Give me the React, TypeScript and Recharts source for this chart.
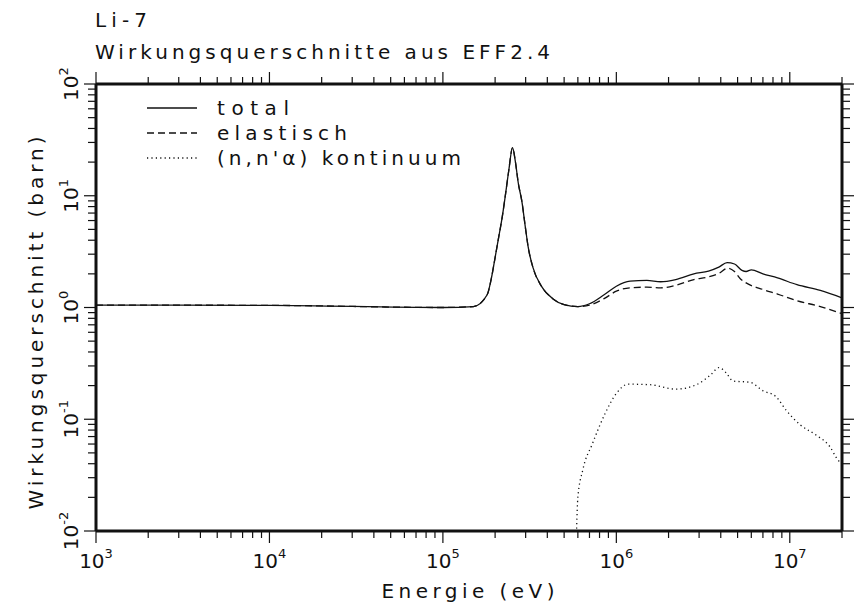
import React from "react";
import { LineChart, Line, XAxis, YAxis } from "recharts";

// Li-7 Wirkungsquerschnitte (barn) über Energie (eV)
const TOTAL_E = [
  1e3, 1e4, 1e5, 1.5e5, 1.8e5, 1.9e5, 2.0e5, 2.1e5, 2.2e5, 2.3e5, 2.4e5, 2.52e5,
  2.62e5, 2.72e5, 2.85e5, 3.0e5, 3.1e5, 3.3e5, 3.7e5, 4.3e5, 5e5, 6e5, 7e5, 8.5e5,
  1e6, 1.2e6, 1.5e6, 1.8e6, 2.2e6, 2.8e6, 3.4e6, 3.9e6, 4.35e6, 4.8e6, 5.3e6, 5.6e6,
  6e6, 7e6, 8.5e6, 1.1e7, 1.5e7, 2e7,
];
const TOTAL_S = [
  1.05, 1.045, 1.0, 1.02, 1.3, 1.8, 2.8, 4.3, 6.5, 10.5, 17, 27,
  20, 13, 9, 5, 3.5, 2.3, 1.55, 1.2, 1.06, 1.02, 1.08, 1.3,
  1.55, 1.72, 1.75, 1.7, 1.78, 2.0, 2.12, 2.3, 2.52, 2.45, 2.15, 2.1,
  2.17, 2.0, 1.84, 1.6, 1.42, 1.22,
];

const ELASTIC_E = [
  1e3, 1e4, 1e5, 1.5e5, 1.8e5, 1.9e5, 2.0e5, 2.1e5, 2.2e5, 2.3e5, 2.4e5, 2.52e5,
  2.62e5, 2.72e5, 2.85e5, 3.0e5, 3.1e5, 3.3e5, 3.7e5, 4.3e5, 5e5, 6e5, 7e5, 8.5e5,
  1e6, 1.2e6, 1.5e6, 1.8e6, 2.2e6, 2.8e6, 3.4e6, 3.9e6, 4.4e6, 4.8e6, 5.2e6, 5.6e6,
  7e6, 8.5e6, 1.1e7, 1.5e7, 2e7,
];
const ELASTIC_S = [
  1.05, 1.045, 1.0, 1.02, 1.3, 1.8, 2.8, 4.3, 6.5, 10.5, 17, 27,
  20, 13, 9, 5, 3.5, 2.3, 1.55, 1.2, 1.06, 1.02, 1.05, 1.2,
  1.4, 1.5, 1.52, 1.5, 1.58, 1.78, 1.88, 2.02, 2.25, 2.1, 1.8, 1.66,
  1.45, 1.32, 1.15, 1.02, 0.88,
];

const NNA_E = [
  5.9e5, 6.0e5, 6.4e5, 7.3e5, 8.6e5, 1e6, 1.17e6, 1.55e6, 2.2e6, 2.9e6, 3.5e6, 3.9e6,
  4.3e6, 4.7e6, 5.9e6, 7e6, 8.3e6, 9.5e6, 1.15e7, 1.42e7, 1.7e7, 1.9e7, 2e7,
];
const NNA_S = [
  0.0105, 0.02, 0.035, 0.061, 0.112, 0.17, 0.206, 0.204, 0.186, 0.204, 0.25, 0.29,
  0.26, 0.22, 0.214, 0.18, 0.16, 0.121, 0.089, 0.072, 0.057, 0.043, 0.04,
];

const X_DECADES = [1e3, 1e4, 1e5, 1e6, 1e7];
const Y_DECADES = [1e-2, 1e-1, 1e0, 1e1, 1e2];
const MINOR_STEPS = [2, 3, 4, 5, 6, 7, 8, 9];

const SERIES = [
  { name: "total", dash: undefined as string | undefined, width: 72 },
  { name: "elastisch", dash: "7 4", width: 130 },
  { name: "(n,n'α) kontinuum", dash: "1.2 3.2", width: 244 },
];

const zip = (e: number[], s: number[]) => e.map((v, i) => ({ e: v, s: s[i] }));
const totalData = zip(TOTAL_E, TOTAL_S);
const elasticData = zip(ELASTIC_E, ELASTIC_S);
const nnaData = zip(NNA_E, NNA_S);

const buildTicks = (decades: number[], last: number) => {
  const out: number[] = [];
  decades.forEach((d) => {
    out.push(d);
    MINOR_STEPS.forEach((m) => {
      if (d * m <= last * 1.0001) out.push(d * m);
    });
  });
  if (!out.includes(last)) out.push(last);
  return out.filter((t) => t <= last * 1.0001);
};
const xTicks = buildTicks(X_DECADES, 2e7);
const yTicks = buildTicks(Y_DECADES, 1e2);

const FONT = "DejaVu Sans, sans-serif";
const INK = "#111";

const isMajor = (v: number) => {
  const l = Math.log10(v);
  return Math.abs(l - Math.round(l)) < 1e-6;
};
const exponent = (v: number) => String(Math.round(Math.log10(v)));

const HTick = (props: any) => {
  const { x, y, payload, side } = props;
  const major = isMajor(payload.value);
  const len = major ? 12 : 7;
  const dir = side === "bottom" ? 1 : -1;
  return (
    <g>
      <line x1={x} y1={y} x2={x} y2={y + dir * len} stroke={INK} strokeWidth={1.2} />
      {side === "bottom" && major && (
        <text x={x} y={y + 37} textAnchor="middle" fontFamily={FONT} fontSize={20} fill={INK}>
          <tspan>10</tspan>
          <tspan dy={-10} fontSize={13}>
            {exponent(payload.value)}
          </tspan>
        </text>
      )}
    </g>
  );
};

const VTick = (props: any) => {
  const { x, y, payload, side } = props;
  const major = isMajor(payload.value);
  const len = major ? 12 : 8;
  const dir = side === "left" ? -1 : 1;
  const bx = x - 18;
  return (
    <g>
      <line x1={x} y1={y} x2={x + dir * len} y2={y} stroke={INK} strokeWidth={1.2} />
      {side === "left" && major && (
        <text
          x={bx}
          y={y}
          transform={`rotate(-90, ${bx}, ${y})`}
          textAnchor="middle"
          fontFamily={FONT}
          fontSize={20}
          fill={INK}
        >
          <tspan>10</tspan>
          <tspan dy={-10} fontSize={13}>
            {exponent(payload.value)}
          </tspan>
        </text>
      )}
    </g>
  );
};

const axisLine = { stroke: INK, strokeWidth: 3 };

export default function App() {
  return (
    <div style={{ position: "absolute", left: 0, top: 0, width: 857, height: 615, background: "#fff" }}>
      <LineChart width={857} height={615} margin={{ top: 74, right: 5, bottom: 24, left: 36 }}>
        <XAxis
          xAxisId="bottom"
          dataKey="e"
          type="number"
          scale="log"
          domain={[1e3, 2e7]}
          allowDataOverflow
          ticks={xTicks}
          interval={0}
          height={60}
          tickSize={0}
          tickMargin={0}
          tickLine={false}
          axisLine={axisLine}
          tick={(p: any) => <HTick {...p} side="bottom" />}
        />
        <XAxis
          xAxisId="top"
          orientation="top"
          dataKey="e"
          type="number"
          scale="log"
          domain={[1e3, 2e7]}
          allowDataOverflow
          ticks={xTicks}
          interval={0}
          height={10}
          tickSize={0}
          tickMargin={0}
          tickLine={false}
          axisLine={axisLine}
          tick={(p: any) => <HTick {...p} side="top" />}
        />
        <YAxis
          yAxisId="left"
          type="number"
          scale="log"
          domain={[1e-2, 1e2]}
          allowDataOverflow
          ticks={yTicks}
          interval={0}
          width={60}
          tickSize={0}
          tickMargin={0}
          tickLine={false}
          axisLine={axisLine}
          tick={(p: any) => <VTick {...p} side="left" />}
        />
        <YAxis
          yAxisId="right"
          orientation="right"
          type="number"
          scale="log"
          domain={[1e-2, 1e2]}
          allowDataOverflow
          ticks={yTicks}
          interval={0}
          width={10}
          tickSize={0}
          tickMargin={0}
          tickLine={false}
          axisLine={axisLine}
          tick={(p: any) => <VTick {...p} side="right" />}
        />
        <Line
          xAxisId="bottom"
          yAxisId="left"
          data={totalData}
          dataKey="s"
          name="total"
          type="monotone"
          stroke={INK}
          strokeWidth={1.3}
          dot={false}
          isAnimationActive={false}
        />
        <Line
          xAxisId="bottom"
          yAxisId="left"
          data={elasticData}
          dataKey="s"
          name="elastisch"
          type="monotone"
          stroke={INK}
          strokeWidth={1.3}
          strokeDasharray="7 4"
          dot={false}
          isAnimationActive={false}
        />
        <Line
          xAxisId="bottom"
          yAxisId="left"
          data={nnaData}
          dataKey="s"
          name="(n,n'α) kontinuum"
          type="monotone"
          stroke={INK}
          strokeWidth={1.3}
          strokeDasharray="1.2 3.2"
          dot={false}
          isAnimationActive={false}
        />
      </LineChart>

      {/* titles, legend and axis captions */}
      <svg
        width={857}
        height={615}
        style={{ position: "absolute", left: 0, top: 0, pointerEvents: "none" }}
        fontFamily={FONT}
        fill={INK}
      >
        <text x={95} y={27} fontSize={20} textLength={52} lengthAdjust="spacing">
          Li-7
        </text>
        <text x={95} y={59} fontSize={20} textLength={455} lengthAdjust="spacing">
          Wirkungsquerschnitte aus EFF2.4
        </text>
        {SERIES.map((s, i) => {
          const base = 115 + i * 25;
          return (
            <g key={s.name}>
              <line
                x1={147}
                x2={197}
                y1={base - 7}
                y2={base - 7}
                stroke={INK}
                strokeWidth={1.3}
                strokeDasharray={s.dash}
              />
              <text x={217} y={base} fontSize={20} textLength={s.width} lengthAdjust="spacing">
                {s.name}
              </text>
            </g>
          );
        })}
        <text x={468} y={598} fontSize={20} textAnchor="middle" textLength={173} lengthAdjust="spacing">
          Energie (eV)
        </text>
        <text
          x={43}
          y={323}
          transform="rotate(-90, 43, 323)"
          fontSize={20}
          textAnchor="middle"
          textLength={373}
          lengthAdjust="spacing"
        >
          Wirkungsquerschnitt (barn)
        </text>
      </svg>
    </div>
  );
}
